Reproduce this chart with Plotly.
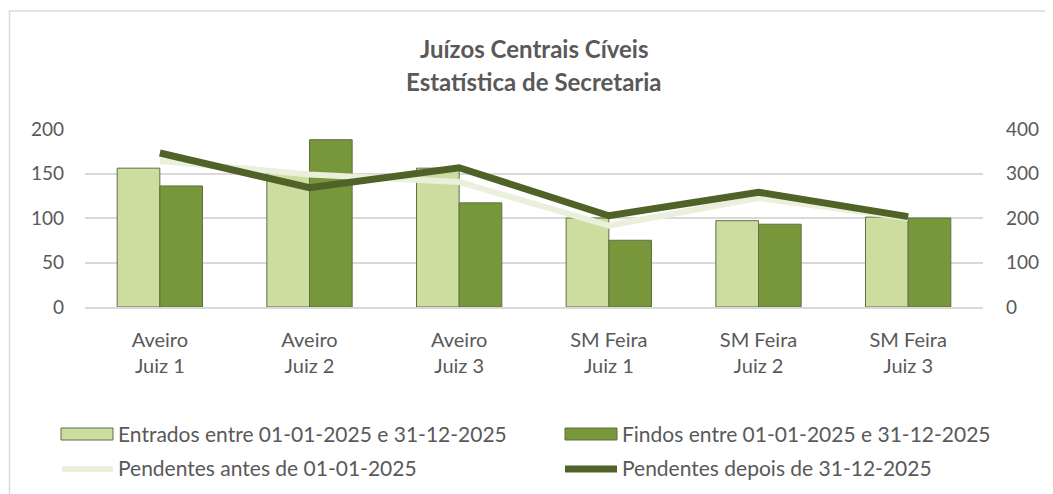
import plotly.graph_objects as go

categories = ["Aveiro<br>Juiz 1", "Aveiro<br>Juiz 2", "Aveiro<br>Juiz 3",
              "SM Feira<br>Juiz 1", "SM Feira<br>Juiz 2", "SM Feira<br>Juiz 3"]
entrados = [156, 150, 156, 100, 97, 101]
findos = [136, 188, 117, 75, 93, 100]
pend_antes = [328, 298, 281, 183, 245, 200]
pend_depois = [346, 268, 313, 205, 258, 203]

names = ["Entrados entre 01-01-2025 e 31-12-2025",
         "Findos entre 01-01-2025 e 31-12-2025",
         "Pendentes antes de 01-01-2025",
         "Pendentes depois de 31-12-2025"]

C_LIGHT_BAR = "#cddc9f"
C_DARK_BAR = "#78963a"
C_BAR_EDGE = "#5f6f45"
C_LIGHT_LINE = "#eaf0dc"
C_DARK_LINE = "#4f6228"
TXT = "#595959"
FONT = "Lato, Open Sans, sans-serif"

# page body adds an 8px offset
OFF = 8
W, H = 1053 - OFF, 494 - OFF
PLOT_L, PLOT_R, PLOT_T, PLOT_B = 85, 983, 129, 307  # screen px
ML = PLOT_L - OFF
MT = PLOT_T - OFF
MR = W - (PLOT_R - OFF)
MB = H - (PLOT_B - OFF)
PW = PLOT_R - PLOT_L
PH = PLOT_B - PLOT_T


def px(x):
    return (x - PLOT_L) / PW


def py(y):
    return (PLOT_B - y) / PH


fig = go.Figure()
fig.add_trace(go.Bar(x=categories, y=entrados, name=names[0],
                     marker=dict(color=C_LIGHT_BAR, line=dict(color=C_BAR_EDGE, width=1)),
                     showlegend=False))
fig.add_trace(go.Bar(x=categories, y=findos, name=names[1],
                     marker=dict(color=C_DARK_BAR, line=dict(color=C_BAR_EDGE, width=1)),
                     showlegend=False))
fig.add_trace(go.Scatter(x=categories, y=pend_antes, name=names[2], mode="lines",
                         line=dict(color=C_LIGHT_LINE, width=6), yaxis="y2",
                         showlegend=False))
fig.add_trace(go.Scatter(x=categories, y=pend_depois, name=names[3], mode="lines",
                         line=dict(color=C_DARK_LINE, width=7), yaxis="y2",
                         showlegend=False))

shapes = [
    dict(type="rect", xref="paper", yref="paper",
         x0=px(9.5), x1=px(1070), y0=py(11), y1=py(510),
         line=dict(color="#d9d9d9", width=1.5), fillcolor="rgba(0,0,0,0)", layer="below"),
    dict(type="rect", xref="paper", yref="paper", x0=px(61), x1=px(113), y0=py(440), y1=py(428),
         fillcolor=C_LIGHT_BAR, line=dict(color=C_BAR_EDGE, width=1)),
    dict(type="rect", xref="paper", yref="paper", x0=px(565), x1=px(617), y0=py(440), y1=py(428),
         fillcolor=C_DARK_BAR, line=dict(color=C_BAR_EDGE, width=1)),
    dict(type="line", xref="paper", yref="paper", x0=px(62), x1=px(113), y0=py(469), y1=py(469),
         line=dict(color=C_LIGHT_LINE, width=6)),
    dict(type="line", xref="paper", yref="paper", x0=px(565), x1=px(617), y0=py(469), y1=py(469),
         line=dict(color=C_DARK_LINE, width=7)),
]

annotations = [
    dict(text="<b>Juízos Centrais Cíveis</b>", x=0.5, y=py(48), xref="paper", yref="paper",
         showarrow=False, xanchor="center", yanchor="middle", font=dict(size=24, color=TXT, family=FONT)),
    dict(text="<b>Estatística de Secretaria</b>", x=0.5, y=py(82), xref="paper", yref="paper",
         showarrow=False, xanchor="center", yanchor="middle", font=dict(size=24, color=TXT, family=FONT)),
    dict(text=names[0], x=px(116), y=py(433), xref="paper", yref="paper", showarrow=False,
         xanchor="left", yanchor="middle", font=dict(size=21, color=TXT, family=FONT)),
    dict(text=names[1], x=px(620), y=py(433), xref="paper", yref="paper", showarrow=False,
         xanchor="left", yanchor="middle", font=dict(size=21, color=TXT, family=FONT)),
    dict(text=names[2], x=px(116), y=py(467), xref="paper", yref="paper", showarrow=False,
         xanchor="left", yanchor="middle", font=dict(size=21, color=TXT, family=FONT)),
    dict(text=names[3], x=px(620), y=py(467), xref="paper", yref="paper", showarrow=False,
         xanchor="left", yanchor="middle", font=dict(size=21, color=TXT, family=FONT)),
]

fig.update_layout(
    width=W, height=H,
    margin=dict(l=ML, r=MR, t=MT, b=MB),
    paper_bgcolor="white", plot_bgcolor="white",
    barmode="group", bargap=0.43, bargroupgap=0,
    showlegend=False,
    font=dict(family=FONT, color=TXT, size=19),
    xaxis=dict(showgrid=False, showline=True, linecolor="#d9d9d9", linewidth=1.5,
               tickfont=dict(size=20, color=TXT), ticks="", ticklabelstandoff=14),
    yaxis=dict(range=[0, 200], dtick=50, showgrid=True, gridcolor="#d9d9d9", gridwidth=1.5,
               zeroline=False, showline=False, tickfont=dict(size=19, color=TXT),
               ticklabelstandoff=20),
    yaxis2=dict(range=[0, 400], dtick=100, overlaying="y", side="right", showgrid=False,
                zeroline=False, showline=False, tickfont=dict(size=19, color=TXT),
                ticklabelstandoff=22),
    shapes=shapes,
    annotations=annotations,
)

fig.write_html("out.html")
